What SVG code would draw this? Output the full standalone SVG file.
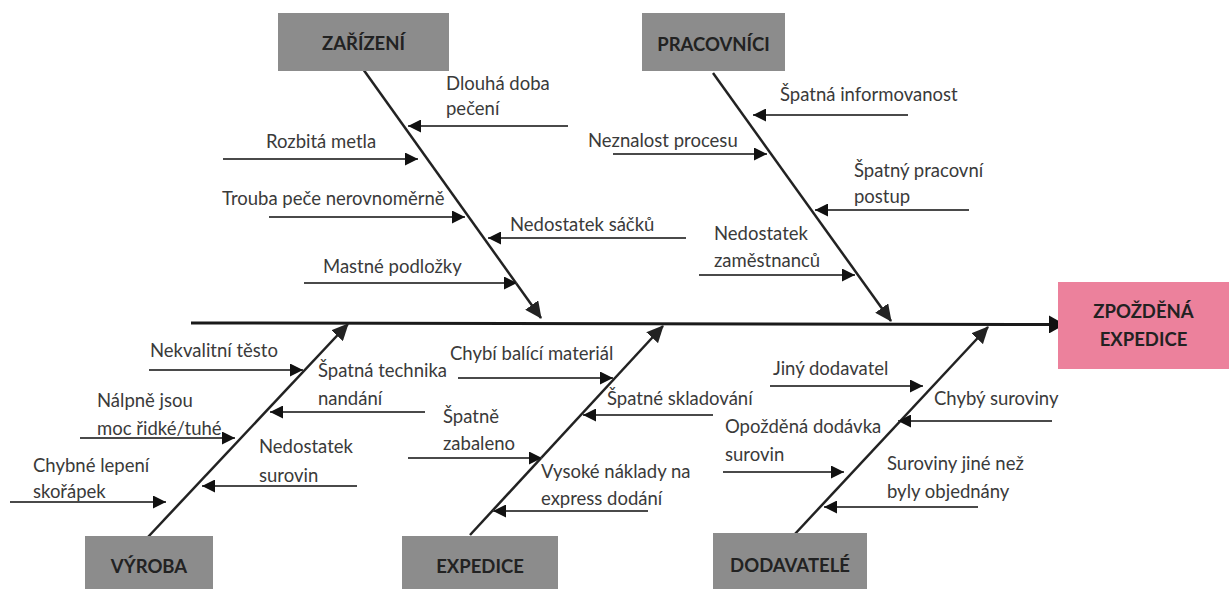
<svg xmlns="http://www.w3.org/2000/svg" width="1229" height="589" viewBox="0 0 1229 589">
  <style>
    .cat { fill: #8c8c8c; }
    .effect { fill: #ec819c; }
    .cat-label { font-family: Lato, "Liberation Sans", sans-serif; font-size: 18.5px; font-weight: bold; fill: #222222; text-anchor: middle; }
    .cause { font-family: Lato, "Liberation Sans", sans-serif; font-size: 18.5px; fill: #3a3a3a; }
    .spine { stroke: #1a1a1a; stroke-width: 3; fill: none; }
    .bone { stroke: #222222; stroke-width: 2.5; fill: none; }
    .twig { stroke: #4a4a4a; stroke-width: 1.8; fill: none; }
  </style>
  <defs>
    <marker id="head-spine" markerUnits="userSpaceOnUse" markerWidth="16" markerHeight="18" refX="15" refY="9" orient="auto">
      <path d="M0,0 L16,9 L0,18 Z" fill="#111111"/>
    </marker>
    <marker id="head-bone" markerUnits="userSpaceOnUse" markerWidth="17" markerHeight="16" refX="16" refY="8" orient="auto">
      <path d="M0,0 L17,8 L0,16 Z" fill="#222222"/>
    </marker>
    <marker id="head-twig" markerUnits="userSpaceOnUse" markerWidth="13" markerHeight="13" refX="13" refY="6.5" orient="auto">
      <path d="M0,0 L13,6.5 L0,13 Z" fill="#111111"/>
    </marker>
  </defs>

  <rect width="1229" height="589" fill="#ffffff"/>

  <!-- spine, main bones and cause arrows -->
  <g id="connectors">
    <line class="spine" x1="191" y1="323" x2="1064" y2="324.5" marker-end="url(#head-spine)"/>

    <line class="bone" x1="363" y1="69" x2="541" y2="318" marker-end="url(#head-bone)"/>
    <line class="bone" x1="713" y1="73" x2="891" y2="321" marker-end="url(#head-bone)"/>
    <line class="bone" x1="148" y1="537" x2="348" y2="324" marker-end="url(#head-bone)"/>
    <line class="bone" x1="470" y1="535" x2="663" y2="326" marker-end="url(#head-bone)"/>
    <line class="bone" x1="794" y1="535" x2="988" y2="327" marker-end="url(#head-bone)"/>

    <!-- ZAŘÍZENÍ -->
    <line class="twig" x1="568" y1="126" x2="408" y2="126" marker-end="url(#head-twig)"/>
    <line class="twig" x1="223" y1="159" x2="418" y2="159" marker-end="url(#head-twig)"/>
    <line class="twig" x1="269" y1="217" x2="465" y2="217" marker-end="url(#head-twig)"/>
    <line class="twig" x1="686" y1="238" x2="488" y2="238" marker-end="url(#head-twig)"/>
    <line class="twig" x1="304" y1="283" x2="517" y2="283" marker-end="url(#head-twig)"/>

    <!-- PRACOVNÍCI -->
    <line class="twig" x1="908" y1="115" x2="753" y2="115" marker-end="url(#head-twig)"/>
    <line class="twig" x1="613" y1="154" x2="767" y2="154" marker-end="url(#head-twig)"/>
    <line class="twig" x1="969" y1="210" x2="815" y2="210" marker-end="url(#head-twig)"/>
    <line class="twig" x1="699" y1="275" x2="855" y2="275" marker-end="url(#head-twig)"/>

    <!-- VÝROBA -->
    <line class="twig" x1="149" y1="370" x2="303" y2="370" marker-end="url(#head-twig)"/>
    <line class="twig" x1="425" y1="412" x2="270" y2="412" marker-end="url(#head-twig)"/>
    <line class="twig" x1="80" y1="438" x2="235" y2="438" marker-end="url(#head-twig)"/>
    <line class="twig" x1="357" y1="486" x2="202" y2="486" marker-end="url(#head-twig)"/>
    <line class="twig" x1="10" y1="502" x2="166" y2="502" marker-end="url(#head-twig)"/>

    <!-- EXPEDICE -->
    <line class="twig" x1="458" y1="378" x2="613" y2="378" marker-end="url(#head-twig)"/>
    <line class="twig" x1="713" y1="415" x2="583" y2="415" marker-end="url(#head-twig)"/>
    <line class="twig" x1="408" y1="458" x2="542" y2="458" marker-end="url(#head-twig)"/>
    <line class="twig" x1="648" y1="511" x2="493" y2="511" marker-end="url(#head-twig)"/>

    <!-- DODAVATELÉ -->
    <line class="twig" x1="770" y1="386" x2="923" y2="386" marker-end="url(#head-twig)"/>
    <line class="twig" x1="1052" y1="421" x2="898" y2="421" marker-end="url(#head-twig)"/>
    <line class="twig" x1="723" y1="472" x2="844" y2="472" marker-end="url(#head-twig)"/>
    <line class="twig" x1="978" y1="507" x2="824" y2="507" marker-end="url(#head-twig)"/>
  </g>

  <!-- category boxes -->
  <g id="node-zarizeni">
    <rect class="cat" x="278" y="13" width="171" height="58"/>
    <text class="cat-label" x="363.5" y="50">ZAŘÍZENÍ</text>
  </g>
  <g id="node-pracovnici">
    <rect class="cat" x="642" y="13" width="143" height="58"/>
    <text class="cat-label" x="713.5" y="51">PRACOVNÍCI</text>
  </g>
  <g id="node-vyroba">
    <rect class="cat" x="85" y="536" width="128" height="53"/>
    <text class="cat-label" x="149" y="573">VÝROBA</text>
  </g>
  <g id="node-expedice">
    <rect class="cat" x="402" y="536" width="156" height="53"/>
    <text class="cat-label" x="480" y="573">EXPEDICE</text>
  </g>
  <g id="node-dodavatele">
    <rect class="cat" x="713" y="533" width="154" height="56"/>
    <text class="cat-label" x="790" y="572">DODAVATELÉ</text>
  </g>
  <g id="node-effect">
    <rect class="effect" x="1058" y="282" width="171" height="87"/>
    <text class="cat-label" x="1143.5" y="318">ZPOŽDĚNÁ</text>
    <text class="cat-label" x="1143.5" y="346">EXPEDICE</text>
  </g>

  <!-- cause labels -->
  <g id="causes-zarizeni">
    <text class="cause" x="446" y="90">Dlouhá doba</text>
    <text class="cause" x="446" y="115">pečení</text>
    <text class="cause" x="266" y="148">Rozbitá metla</text>
    <text class="cause" x="222" y="205">Trouba peče nerovnoměrně</text>
    <text class="cause" x="510" y="231">Nedostatek sáčků</text>
    <text class="cause" x="323" y="273">Mastné podložky</text>
  </g>
  <g id="causes-pracovnici">
    <text class="cause" x="780" y="101">Špatná informovanost</text>
    <text class="cause" x="588" y="147">Neznalost procesu</text>
    <text class="cause" x="854" y="177">Špatný pracovní</text>
    <text class="cause" x="854" y="203">postup</text>
    <text class="cause" x="714" y="240">Nedostatek</text>
    <text class="cause" x="714" y="267">zaměstnanců</text>
  </g>
  <g id="causes-vyroba">
    <text class="cause" x="150" y="357">Nekvalitní těsto</text>
    <text class="cause" x="318" y="377">Špatná technika</text>
    <text class="cause" x="318" y="405">nandání</text>
    <text class="cause" x="97" y="407">Nálpně jsou</text>
    <text class="cause" x="97" y="435">moc řidké/tuhé</text>
    <text class="cause" x="259" y="453">Nedostatek</text>
    <text class="cause" x="259" y="482">surovin</text>
    <text class="cause" x="33" y="472">Chybné lepení</text>
    <text class="cause" x="33" y="498">skořápek</text>
  </g>
  <g id="causes-expedice">
    <text class="cause" x="450" y="360">Chybí balící materiál</text>
    <text class="cause" x="607" y="405">Špatné skladování</text>
    <text class="cause" x="443" y="423">Špatně</text>
    <text class="cause" x="443" y="450">zabaleno</text>
    <text class="cause" x="541" y="478">Vysoké náklady na</text>
    <text class="cause" x="541" y="505">express dodání</text>
  </g>
  <g id="causes-dodavatele">
    <text class="cause" x="773" y="375">Jiný dodavatel</text>
    <text class="cause" x="934" y="405">Chybý suroviny</text>
    <text class="cause" x="725" y="433">Opožděná dodávka</text>
    <text class="cause" x="725" y="461">surovin</text>
    <text class="cause" x="887" y="470">Suroviny jiné než</text>
    <text class="cause" x="887" y="498">byly objednány</text>
  </g>
</svg>
